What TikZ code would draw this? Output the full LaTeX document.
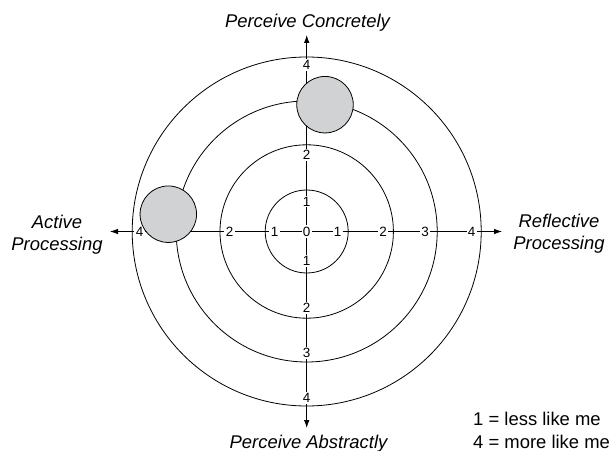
\documentclass[tikz,border=0pt]{standalone}
\usepackage{fontspec}
\setmainfont{Liberation Sans}
\usetikzlibrary{arrows.meta}
\definecolor{blobgray}{HTML}{D1D2D4}
\begin{document}
\begin{tikzpicture}[x=1bp,y=-1bp,
  ring/.style={draw=black,line width=0.8bp},
  axis/.style={draw=black,line width=0.8bp,
    arrows={Latex[length=8bp,width=5.5bp]-Latex[length=8bp,width=5.5bp]}},
  tick/.style={fill=white,inner sep=1.3bp,font=\fontsize{13.5}{13.5}\selectfont},
  pole/.style={inner sep=0pt,align=center,
    font=\fontsize{18.5}{23}\selectfont\itshape},
  legend/.style={inner sep=0pt,align=left,
    font=\fontsize{18.5}{23.3}\selectfont},
  blob/.style={draw=black,line width=0.8bp,fill=blobgray},
]
\path[use as bounding box] (0,0) rectangle (612,451);

% centre and axis end points
\coordinate (c) at (306.7,231.5);
\coordinate (W) at (110,231.5);
\coordinate (E) at (502,231.5);
\coordinate (N) at (306.7,35);
\coordinate (S) at (306.7,428);

% concentric rings
\draw[ring] (c) circle[radius=41.5bp];
\draw[ring] (c) circle[radius=86.7bp];
\draw[ring] (c) circle[radius=130.5bp];
\draw[ring] (c) circle[radius=174.5bp];

% axes
\draw[axis] (W) -- (E);
\draw[axis] (N) -- (S);

% scale marks
\node[tick] (t0) at (c) {0};
\node[tick] (e1) at (337.7,231.5) {1};
\node[tick] (e2) at (383,231.5) {2};
\node[tick] (e3) at (425,231.5) {3};
\node[tick] (e4) at (471.7,231.5) {4};
\node[tick] (w1) at (274.5,231.5) {1};
\node[tick] (w2) at (229.5,231.5) {2};
\node[tick] (w4) at (139.5,231.5) {4};
\node[tick] (n1) at (306.7,201.5) {1};
\node[tick] (n2) at (306.7,155) {2};
\node[tick] (n4) at (306.7,65) {4};
\node[tick] (s1) at (306.7,261) {1};
\node[tick] (s2) at (306.7,308.3) {2};
\node[tick] (s3) at (306.7,352.7) {3};
\node[tick] (s4) at (306.7,398.3) {4};

% self-rating markers
\node[blob,circle,minimum size=56.5bp,inner sep=0pt] (m1) at (325,104.7) {};
\node[blob,circle,minimum size=56.5bp,inner sep=0pt] (m2) at (168.3,214.2) {};

% pole captions
\node[pole,anchor=base] (pc) at (307.5,27.5) {Perceive Concretely};
\node[pole,anchor=base] (pa) at (308.5,448) {Perceive Abstractly};
\node[pole,anchor=north] (ap) at (57,214.5) {Active\\Processing};
\node[pole,anchor=north] (rp) at (559,213.5) {Reflective\\Processing};

% key
\node[legend,anchor=west] (key) at (473,430.3) {1 = less like me\\4 = more like me};
\end{tikzpicture}
\end{document}
